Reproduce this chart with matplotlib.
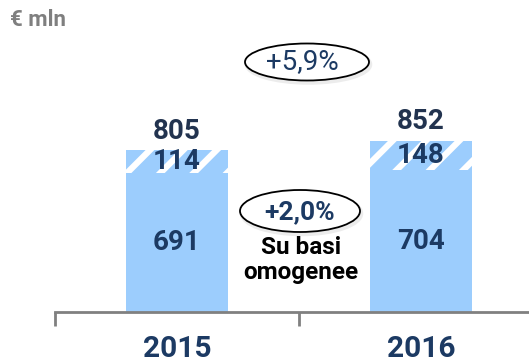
import matplotlib
matplotlib.use("Agg")
import matplotlib.pyplot as plt
from matplotlib.patches import Ellipse

years = ["2015", "2016"]
base_values = [691, 704]
extra_values = [114, 148]
totals = [805, 852]
growth_total = "+5,9%"
growth_like = "+2,0%"
like_note = "Su basi\nomogenee"
unit_label = "€ mln"

W, H = 529, 364
plt.rcParams["font.family"] = ["Roboto", "DejaVu Sans"]
plt.rcParams["hatch.linewidth"] = 4.5
fig = plt.figure(figsize=(W / 100, H / 100), dpi=100)

bar_blue = "#9ccdfd"
navy = "#1c3a63"
dark_navy = "#22334f"

ax = fig.add_axes([55 / W, 52 / H, 488 / W, 312 / H])
ax.set_xlim(-0.5, 1.5)
ax.set_ylim(0, 1552)
x = list(range(len(years)))

ax.bar(x, base_values, width=0.415, color=bar_blue, linewidth=0)
ax.bar(x, extra_values, width=0.415, bottom=base_values, facecolor=bar_blue,
       edgecolor="white", hatch="/", linewidth=0)

for i in x:
    ax.text(i, base_values[i] / 2, str(base_values[i]), ha="center", va="center",
            fontsize=20, fontweight="bold", color=navy)
    ax.text(i, base_values[i] + extra_values[i] / 2, str(extra_values[i]),
            ha="center", va="center", fontsize=20, fontweight="bold", color=navy)
    ax.text(i, totals[i] + 95, str(totals[i]), ha="center", va="center",
            fontsize=20, fontweight="bold", color=dark_navy)

for s in ["top", "right", "left"]:
    ax.spines[s].set_visible(False)
ax.spines["bottom"].set_color("#808080")
ax.spines["bottom"].set_linewidth(2)
ax.set_yticks([])
ax.set_xticks([-0.5, 0.5, 1.5])
ax.set_xticklabels([])
ax.tick_params(axis="x", length=10, width=2, color="#808080", direction="out")
for i in x:
    ax.text(i, -182, years[i], ha="center", va="center", fontsize=21.5,
            fontweight="bold", color=navy, clip_on=False)

# overlay in pixel coordinates for the annotation bubbles
ov = fig.add_axes([0, 0, 1, 1])
ov.set_xlim(0, W)
ov.set_ylim(H, 0)
ov.axis("off")
ov.patch.set_alpha(0)

ov.text(10, 20, unit_label, ha="left", va="center", fontsize=16,
        fontweight="bold", color="#7f7f7f")

for (cx, cy, w, h) in [(307, 62, 124, 37), (300, 211, 120, 42)]:
    ov.add_patch(Ellipse((cx + 1.5, cy + 2.5), w, h, facecolor="none",
                         edgecolor="#ececec", lw=2.5))
    ov.add_patch(Ellipse((cx, cy), w, h, facecolor="white",
                         edgecolor="black", lw=1.3))

ov.text(302, 62, growth_total, ha="center", va="center", fontsize=20,
        color=navy)
ov.text(300, 212, growth_like, ha="center", va="center", fontsize=19,
        fontweight="bold", color=navy)
ov.text(301, 260, like_note, ha="center", va="center", fontsize=17.5,
        fontweight="bold", color="black", linespacing=1.12)

fig.savefig("out.png", dpi=100)
